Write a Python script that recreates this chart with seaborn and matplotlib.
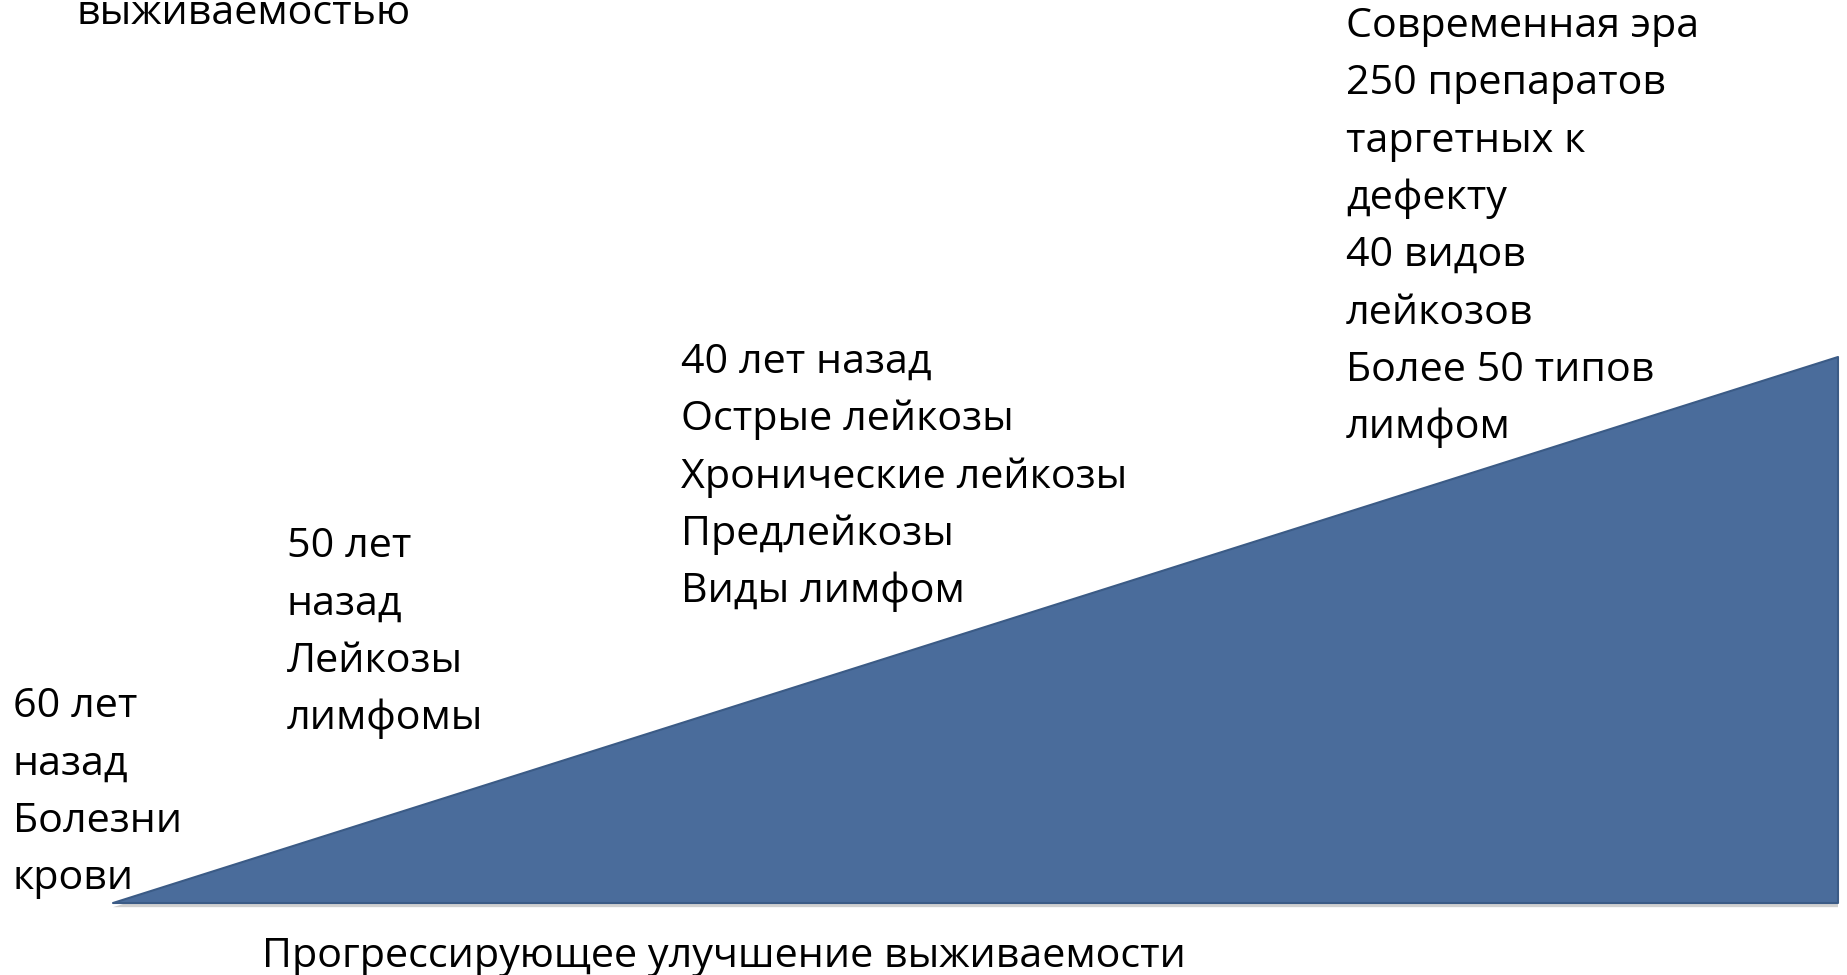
import matplotlib
matplotlib.use("Agg")
import matplotlib.pyplot as plt
import matplotlib.patheffects as pe
import seaborn as sns

# Survival ramp: progress from the earliest era (0) to the modern era (1)
ramp_x = [0.0, 1.0]
ramp_y = [0.0, 1.0]

# Era descriptions, one list of lines per era
era_60 = ["60 лет", "назад", "Болезни", "крови"]
era_50 = ["50 лет", "назад", "Лейкозы", "лимфомы"]
era_40 = ["40 лет назад", "Острые лейкозы", "Хронические лейкозы",
          "Предлейкозы", "Виды лимфом"]
era_now = ["Современная эра", "250 препаратов", "таргетных к", "дефекту",
           "40 видов", "лейкозов", "Более 50 типов", "лимфом"]
top_caption = ["выживаемостью"]
bottom_caption = "Прогрессирующее улучшение выживаемости"

sns.set_theme(style="white")
plt.rcParams["font.family"] = ["Open Sans", "DejaVu Sans"]

W, H = 1847, 975
fig = plt.figure(figsize=(W / 100, H / 100), dpi=100)
fig.patch.set_facecolor("white")

# Axes spanning the ramp shape
left, right, bottom, top = 113, 1838, 903, 357
ax = fig.add_axes([left / W, 1 - bottom / H, (right - left) / W, (bottom - top) / H])
ax.set_xlim(0, 1)
ax.set_ylim(0, 1)
ax.axis("off")

poly = ax.fill_between(ramp_x, 0, ramp_y, facecolor="#4A6C9B",
                       edgecolor="#3B5B86", linewidth=1.5, clip_on=False)
poly.set_path_effects([pe.SimplePatchShadow(offset=(0, -3), shadow_rgbFace="#7A7A7A", alpha=0.35),
                       pe.Normal()])

FS = 29.7
STEP = 57.3


def draw_block(lines, x_px, first_baseline_px):
    for i, line in enumerate(lines):
        y_px = first_baseline_px + i * STEP
        fig.text(x_px / W, 1 - y_px / H, line, ha="left", va="baseline",
                 fontsize=FS, color="black")


draw_block(top_caption, 77, 24)
draw_block(era_60, 13, 717)
draw_block(era_50, 287, 557)
draw_block(era_40, 681, 373)
draw_block(era_now, 1346, 37)
fig.text(262 / W, 1 - 967 / H, bottom_caption, ha="left", va="baseline",
         fontsize=FS, color="black")

fig.savefig("out.png", dpi=100, facecolor="white")
